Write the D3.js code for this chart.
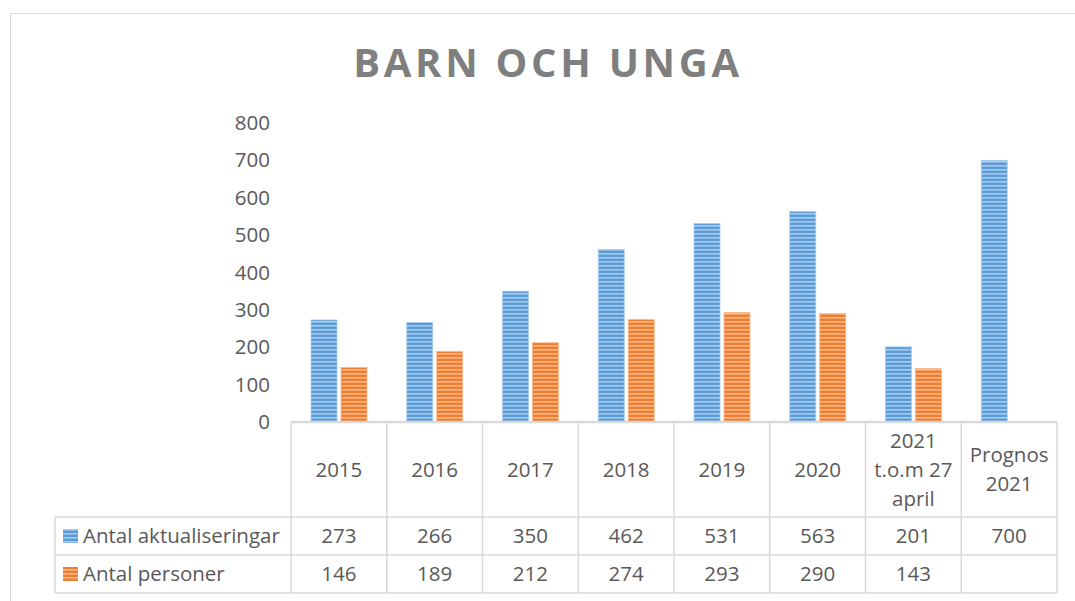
<!DOCTYPE html>
<html>
<head>
<meta charset="utf-8">
<script src="https://cdn.jsdelivr.net/npm/d3@7"></script>
<style>
  body { margin: 0; background: #fff; }
  svg text { font-family: "Open Sans", Lato, sans-serif; }
</style>
</head>
<body>
<script>
var categories = ['2015', '2016', '2017', '2018', '2019', '2020', '2021\nt.o.m 27\napril', 'Prognos\n2021'];
var seriesNames = ['Antal aktualiseringar', 'Antal personer'];
var aktualiseringar = [273, 266, 350, 462, 531, 563, 201, 700];
var personer = [146, 189, 212, 274, 293, 290, 143, null];
var yTicks = [0, 100, 200, 300, 400, 500, 600, 700, 800];

var W = 1075, H = 601;
var colors = { base: ['#5b9bd5', '#ed7d31'], light: ['#a9cbec', '#f6b88d'] };
var textColor = '#595959';
var gridColor = '#d9d9d9';
var fontSize = 20.5;

var plot = { left: 291, right: 1057, top: 123, bottom: 422 };
var rows = { header: 517, r1: 555, r2: 593 };

var svg = d3.select('body').append('svg')
    .attr('width', W)
    .attr('height', H);

// stripe patterns
var defs = svg.append('defs');
seriesNames.forEach(function (s, i) {
    var p = defs.append('pattern')
        .attr('id', 'stripe' + i)
        .attr('patternUnits', 'userSpaceOnUse')
        .attr('width', 8)
        .attr('height', 4);
    p.append('rect').attr('width', 8).attr('height', 4).attr('fill', colors.base[i]);
    p.append('rect').attr('y', 1).attr('width', 8).attr('height', 1.6).attr('fill', colors.light[i]);
});

// outer frame
svg.append('rect')
    .attr('x', 10.5).attr('y', 13.5)
    .attr('width', W + 20).attr('height', H + 20)
    .attr('fill', 'none')
    .attr('stroke', gridColor);

// title
svg.append('text')
    .attr('x', 548)
    .attr('y', 77)
    .attr('text-anchor', 'middle')
    .attr('font-size', 40)
    .attr('font-weight', 'bold')
    .attr('letter-spacing', 3.7)
    .attr('fill', '#7f7f7f')
    .text('BARN OCH UNGA');

var x = d3.scaleBand()
    .domain(categories)
    .range([plot.left, plot.right]);

var x1 = d3.scaleBand()
    .domain(seriesNames)
    .range([20, 76])
    .paddingInner(0.133);

var y = d3.scaleLinear()
    .domain([0, 800])
    .range([plot.bottom, plot.top]);

// y axis labels
var yAxis = svg.append('g')
    .attr('transform', 'translate(' + 282 + ',0)')
    .call(d3.axisLeft(y).tickValues(yTicks).tickSize(0).tickPadding(12));
yAxis.select('.domain').remove();
yAxis.selectAll('text')
    .attr('font-size', fontSize)
    .attr('fill', textColor)
    .style('font-family', '"Open Sans", Lato, sans-serif');

// bars
var seriesData = [aktualiseringar, personer];
seriesData.forEach(function (vals, si) {
    svg.append('g').selectAll('rect')
        .data(vals.map(function (v, i) { return { cat: categories[i], v: v }; })
            .filter(function (d) { return d.v != null; }))
        .enter().append('rect')
        .attr('x', function (d) { return x(d.cat) + x1(seriesNames[si]); })
        .attr('width', x1.bandwidth())
        .attr('y', function (d) { return y(d.v); })
        .attr('height', function (d) { return y(0) - y(d.v); })
        .attr('fill', 'url(#stripe' + si + ')')
        .attr('stroke', colors.light[si])
        .attr('stroke-width', 0.8);
});

// table lines
var lines = svg.append('g').attr('stroke', gridColor).attr('stroke-width', 1.5);
x.domain().concat(['end']).forEach(function (c, i) {
    var xx = i < categories.length ? x(c) : plot.right;
    lines.append('line')
        .attr('x1', xx).attr('x2', xx)
        .attr('y1', plot.bottom).attr('y2', rows.r2);
});
lines.append('line').attr('x1', 55).attr('x2', 55).attr('y1', rows.header).attr('y2', rows.r2);
[rows.header, rows.r1, rows.r2].forEach(function (yy) {
    lines.append('line').attr('x1', 55).attr('x2', plot.right).attr('y1', yy).attr('y2', yy);
});
// axis baseline
svg.append('line')
    .attr('x1', plot.left).attr('x2', plot.right)
    .attr('y1', y(0)).attr('y2', y(0))
    .attr('stroke', gridColor).attr('stroke-width', 2.5);

// category labels
var lineH = 29;
categories.forEach(function (c) {
    var parts = c.split('\n');
    var cy = (plot.bottom + rows.header) / 2;
    var t = svg.append('text')
        .attr('text-anchor', 'middle')
        .attr('font-size', fontSize)
        .attr('fill', textColor);
    parts.forEach(function (p, j) {
        t.append('tspan')
            .attr('x', x(c) + x.bandwidth() / 2)
            .attr('y', cy + (j - (parts.length - 1) / 2) * lineH + 7)
            .text(p);
    });
});

// table values
var rowY = [(rows.header + rows.r1) / 2, (rows.r1 + rows.r2) / 2];
seriesData.forEach(function (vals, si) {
    vals.forEach(function (v, i) {
        if (v == null) return;
        svg.append('text')
            .attr('x', x(categories[i]) + x.bandwidth() / 2)
            .attr('y', rowY[si] + 7)
            .attr('text-anchor', 'middle')
            .attr('font-size', fontSize)
            .attr('fill', textColor)
            .text(v);
    });
    // legend key
    svg.append('rect')
        .attr('x', 63).attr('y', rowY[si] - 7)
        .attr('width', 15).attr('height', 14)
        .attr('fill', 'url(#stripe' + si + ')');
    svg.append('text')
        .attr('x', 83)
        .attr('y', rowY[si] + 7)
        .attr('font-size', fontSize)
        .attr('fill', textColor)
        .text(seriesNames[si]);
});
</script>
</body>
</html>
